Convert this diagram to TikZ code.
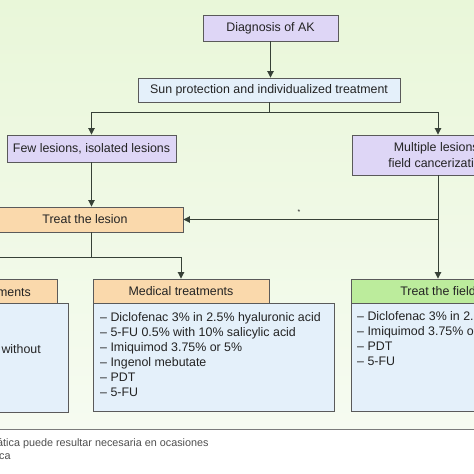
\documentclass[tikz,border=0pt]{standalone}
\usepackage{fontspec}
\setmainfont{Liberation Sans}
\usetikzlibrary{arrows.meta}
\definecolor{L}{RGB}{222,214,246}
\definecolor{B}{RGB}{228,240,250}
\definecolor{O}{RGB}{250,217,172}
\definecolor{G}{RGB}{188,236,156}
\definecolor{E}{RGB}{90,90,90}
\definecolor{A}{RGB}{55,65,55}
\definecolor{T}{RGB}{35,35,35}
\definecolor{Bg}{RGB}{233,247,217}
\definecolor{Bw}{RGB}{246,251,241}

\begin{document}
\begin{tikzpicture}[x=1pt,y=-1pt,
  box/.style={draw=E, line width=0.9pt, text=T, inner sep=0pt, font=\fontsize{12.4}{15}\selectfont},
  lst/.style={text=T, inner sep=0pt, align=left, font=\fontsize{12.4}{15}\selectfont},
  note/.style={text=T!80, inner sep=0pt, font=\fontsize{10.8}{13}\selectfont},
  arr/.style={A, line width=0.9pt, -{Triangle[length=6.5pt,width=6.5pt]}},
  ln/.style={A, line width=0.9pt}]
  \useasboundingbox (0,0) rectangle (474,474);
  \clip (0,0) rectangle (474,474);
  % background
  \shade[top color=Bg, bottom color=Bw] (0,0) rectangle (474,429);
  \fill[white] (0,429) rectangle (474,474);
  \draw[E!80, line width=0.9pt] (0,429) -- (474,429);

  % top of the tree
  \node[box, fill=L, minimum width=135pt, minimum height=26pt] (diag) at (270.5,28) {Diagnosis of AK};
  \node[box, fill=B, minimum width=262pt, minimum height=24pt] (sun) at (269,90) {Sun protection and individualized treatment};
  \node[box, fill=L, minimum width=169pt, minimum height=27pt] (few) at (91.5,148.5) {Few lesions, isolated lesions};
  \node[box, fill=L, minimum width=172pt, minimum height=40pt, align=center,
        font=\fontsize{12.4}{16}\selectfont] (multi) at (438,155) {Multiple lesions,\\field cancerization};
  \node[box, fill=O, minimum width=196pt, minimum height=25pt] (lesion) at (85,219.5) {Treat the lesion};
  \node[font=\fontsize{7}{7}\selectfont, text=T, inner sep=0pt] (ast) at (299,212) {*};

  % treatments
  \draw[E, fill=O, line width=0.9pt] (-60,279) rectangle (57,303);
  \node[lst, anchor=base east] (surg) at (31,296) {ments};
  \draw[E, fill=B, line width=0.9pt] (-80,303) rectangle (68,412);
  \node[lst, anchor=base east] (surgt) at (41,353.5) {without};
  \coordinate (surgtop) at (-30,279);

  \node[box, fill=O, minimum width=176pt, minimum height=24pt] (med) at (181,291) {Medical treatments};
  \node[box, fill=B, anchor=north west, minimum width=241pt, minimum height=108pt] (medb) at (93,303) {};
  \node[lst, anchor=north west] (medt) at (100,311) {\strut-- Diclofenac 3\% in 2.5\% hyaluronic acid\\
    -- 5-FU 0.5\% with 10\% salicylic acid\\-- Imiquimod 3.75\% or 5\%\\-- Ingenol mebutate\\-- PDT\\-- 5-FU};

  \node[box, fill=B, anchor=north west, minimum width=260pt, minimum height=108pt] (fieldb) at (351,303) {};
  \node[box, fill=G, minimum width=174pt, minimum height=24pt] (field) at (438,291) {Treat the field};
  \node[lst, anchor=north west] (fieldt) at (357,310) {\strut-- Diclofenac 3\% in 2.5\% hyaluronic acid\\
    -- Imiquimod 3.75\% or 5\%\\-- PDT\\-- 5-FU};

  % connectors
  \draw[arr] (diag.south) -- (diag.south |- sun.north);
  \draw[ln] (sun.south) -- ++(0,10) coordinate (j1);
  \draw[arr] (j1) -| (few.north);
  \draw[arr] (j1) -| (multi.north);
  \draw[arr] (few.south) -- (few.south |- lesion.north);
  \draw[arr] (multi.south) -- (field.north);
  \draw[arr] (multi.south |- lesion.east) -- (lesion.east);
  \draw[ln] (few.south |- lesion.south) -- ++(0,25) coordinate (j2);
  \draw[arr] (j2) -| (med.north);
  \draw[arr] (j2) -| (surgtop);

  % footnote
  \node[note, anchor=base west] (n1) at (-3,446) {ática puede resultar necesaria en ocasiones};
  \node[note, anchor=base west] (n2) at (-1,459) {ca};
\end{tikzpicture}
\end{document}
